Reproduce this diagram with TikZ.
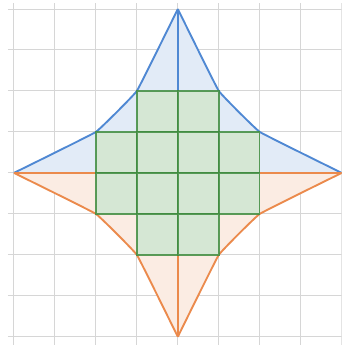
\documentclass[tikz,border=0pt]{standalone}
\usepackage{tikz}
\usetikzlibrary{positioning}
\definecolor{gridgray}{HTML}{D6D6D6}
\definecolor{starblue}{HTML}{4F88D3}
\definecolor{starorange}{HTML}{EB8A4C}
\definecolor{cellgreen}{HTML}{3F8C3F}
\definecolor{bluefill}{HTML}{E2EBF7}
\definecolor{orangefill}{HTML}{FBECE3}
\definecolor{greenfill}{HTML}{D5E7D4}

\begin{document}
\begin{tikzpicture}[
    gridline/.style={gridgray, line width=0.7pt},
    edge/.style={line width=1.3pt, line join=round},
    cellbox/.style={fill=greenfill, draw=cellgreen, draw opacity=0.85, line width=1pt}]
    \useasboundingbox (-4.34,-4.2) rectangle (4.0,4.22);
    \clip (-4.34,-4.2) rectangle (4.0,4.22);

    % Background grid
    \foreach \i in {-4,...,4} {
        \draw[gridline] (-4.15,\i) -- (4.3,\i);
        \draw[gridline] (\i,-4.3) -- (\i,4.15);
    }

    % Upper half of the star
    \fill[bluefill] plot[smooth, tension=0.12] coordinates {(-4,0) (-2,1) (-1,2) (0,4)}
        -- plot[smooth, tension=0.12] coordinates {(0,4) (1,2) (2,1) (4,0)} -- cycle;
    \draw[edge, starblue] plot[smooth, tension=0.12] coordinates {(-4,0) (-2,1) (-1,2) (0,4)};
    \draw[edge, starblue] plot[smooth, tension=0.12] coordinates {(0,4) (1,2) (2,1) (4,0)};
    \draw[edge, starblue] (0,0) -- (0,4);

    % Lower half of the star
    \fill[orangefill] plot[smooth, tension=0.12] coordinates {(-4,0) (-2,-1) (-1,-2) (0,-4)}
        -- plot[smooth, tension=0.12] coordinates {(0,-4) (1,-2) (2,-1) (4,0)} -- cycle;
    \draw[edge, starorange] plot[smooth, tension=0.12] coordinates {(-4,0) (-2,-1) (-1,-2) (0,-4)};
    \draw[edge, starorange] plot[smooth, tension=0.12] coordinates {(0,-4) (1,-2) (2,-1) (4,0)};
    \draw[edge, starorange] (0,0) -- (0,-4);
    \draw[edge, starorange] (-4,0) -- (4,0);

    % Unit squares inside
    \foreach \cx/\cy in {-1/1,0/1,-2/0,-1/0,0/0,1/0,-2/-1,-1/-1,0/-1,1/-1,-1/-2,0/-2}
        \filldraw[cellbox] (\cx,\cy) rectangle ++(1,1);

\end{tikzpicture}
\end{document}
